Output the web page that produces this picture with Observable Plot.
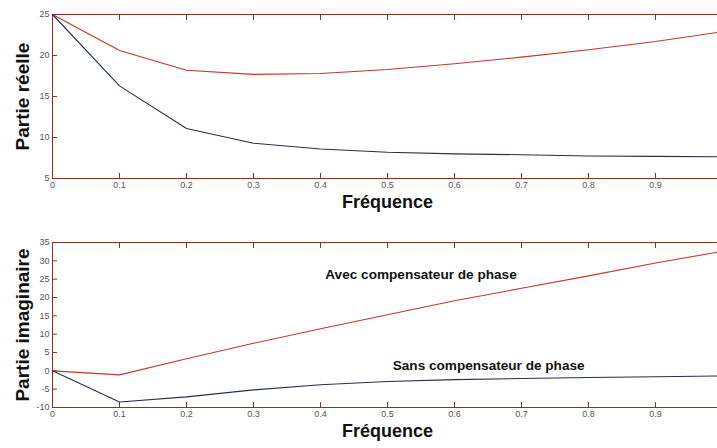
<!DOCTYPE html>
<html>
<head>
<meta charset="utf-8">
<script src="https://cdn.jsdelivr.net/npm/d3@7"></script>
<script src="https://cdn.jsdelivr.net/npm/@observablehq/plot@0.6"></script>
<style>
  html, body { margin: 0; padding: 0; background: #fff; width: 717px; overflow: hidden; }
  svg { display: block; }
</style>
</head>
<body>
<div id="chart"></div>
<script>
// Frequencies
const freq = [0, 0.1, 0.2, 0.3, 0.4, 0.5, 0.6, 0.7, 0.8, 0.9, 1.0];
// Real part
const reelAvec = [25, 20.6, 18.2, 17.7, 17.8, 18.3, 19.0, 19.8, 20.7, 21.7, 22.9];
const reelSans = [25, 16.3, 11.1, 9.3, 8.6, 8.2, 8.0, 7.9, 7.75, 7.7, 7.65];
// Imaginary part
const imagAvec = [0, -1.1, 3.3, 7.5, 11.5, 15.3, 19.1, 22.5, 25.9, 29.4, 32.6];
const imagSans = [0, -8.5, -7.1, -5.2, -3.8, -2.9, -2.4, -2.1, -1.8, -1.6, -1.4];
// Tick labels
const xTicks = [0, 0.1, 0.2, 0.3, 0.4, 0.5, 0.6, 0.7, 0.8, 0.9];
const yTicksReel = [5, 10, 15, 20, 25];
const yTicksImag = [-10, -5, 0, 5, 10, 15, 20, 25, 30, 35];
// Series names and annotations
const seriesNames = ["Avec compensateur de phase", "Sans compensateur de phase"];
const annotations = [
  {text: "Avec compensateur de phase", x: 0.55, y: 26.2},
  {text: "Sans compensateur de phase", x: 0.651, y: 1.3}
];

const colAvec = "#c0392b";
const colSans = "#26304a";
const frameCol = "#8a3324";
const tickFont = "'Liberation Sans', Arial, sans-serif";

function toRows(a, b) {
  return freq.flatMap((f, i) => [
    {f, v: a[i], s: seriesNames[0]},
    {f, v: b[i], s: seriesNames[1]}
  ]);
}

function axes(yTicks) {
  const common = {stroke: frameCol, color: "#555", fontSize: 9, fontFamily: tickFont, labelArrow: false};
  return [
    Plot.axisX({...common, anchor: "bottom", ticks: xTicks, tickSize: -5, tickPadding: 8, label: null, tickFormat: d => d === 0 ? "0" : d3.format(".1f")(d)}),
    Plot.axisX({...common, anchor: "top", ticks: xTicks, tickSize: -5, label: null, tickFormat: () => ""}),
    Plot.axisY({...common, anchor: "left", ticks: yTicks, tickSize: -5, tickPadding: 8, label: null, tickFormat: d => String(d)}),
    Plot.axisY({...common, anchor: "right", ticks: yTicks, tickSize: -5, label: null, tickFormat: () => ""})
  ];
}

function chart({rows, yDomain, yTicks, yLabel, height, marginBottom, extra = []}) {
  return Plot.plot({
    width: 717,
    height,
    marginLeft: 52,
    marginRight: -5,
    marginTop: 14,
    marginBottom,
    style: {background: "#fff", overflow: "visible"},
    x: {domain: [0, 1]},
    y: {domain: yDomain},
    color: {domain: seriesNames, range: [colAvec, colSans]},
    marks: [
      Plot.frame({stroke: frameCol, strokeWidth: 1}),
      ...axes(yTicks),
      Plot.line(rows, {x: "f", y: "v", z: "s", stroke: "s", strokeWidth: 1.1}),
      ...extra,
      Plot.text(["Fréquence"], {text: d => d, frameAnchor: "bottom", dy: 29, fontSize: 18, fontWeight: "bold", fontFamily: "'Liberation Sans', Arial, sans-serif", fill: "#111"}),
      Plot.text([yLabel], {text: d => d, frameAnchor: "left", textAnchor: "middle", dx: -30, rotate: -90, fontSize: 19, fontWeight: "bold", fontFamily: "'Liberation Sans', Arial, sans-serif", fill: "#111"})
    ]
  });
}

const chartTop = chart({
  rows: toRows(reelAvec, reelSans),
  yDomain: [5, 25], yTicks: yTicksReel, yLabel: "Partie réelle",
  height: 228, marginBottom: 50
});
const chartBottom = chart({
  rows: toRows(imagAvec, imagSans),
  yDomain: [-10, 35], yTicks: yTicksImag, yLabel: "Partie imaginaire",
  height: 220, marginBottom: 41,
  extra: [
    Plot.text(annotations, {x: "x", y: "y", text: "text", fontSize: 13.6, fontWeight: "bold", fontFamily: "'Liberation Sans', Arial, sans-serif", fill: "#111"})
  ]
});
document.getElementById("chart").append(chartTop, chartBottom);
</script>
</body>
</html>
